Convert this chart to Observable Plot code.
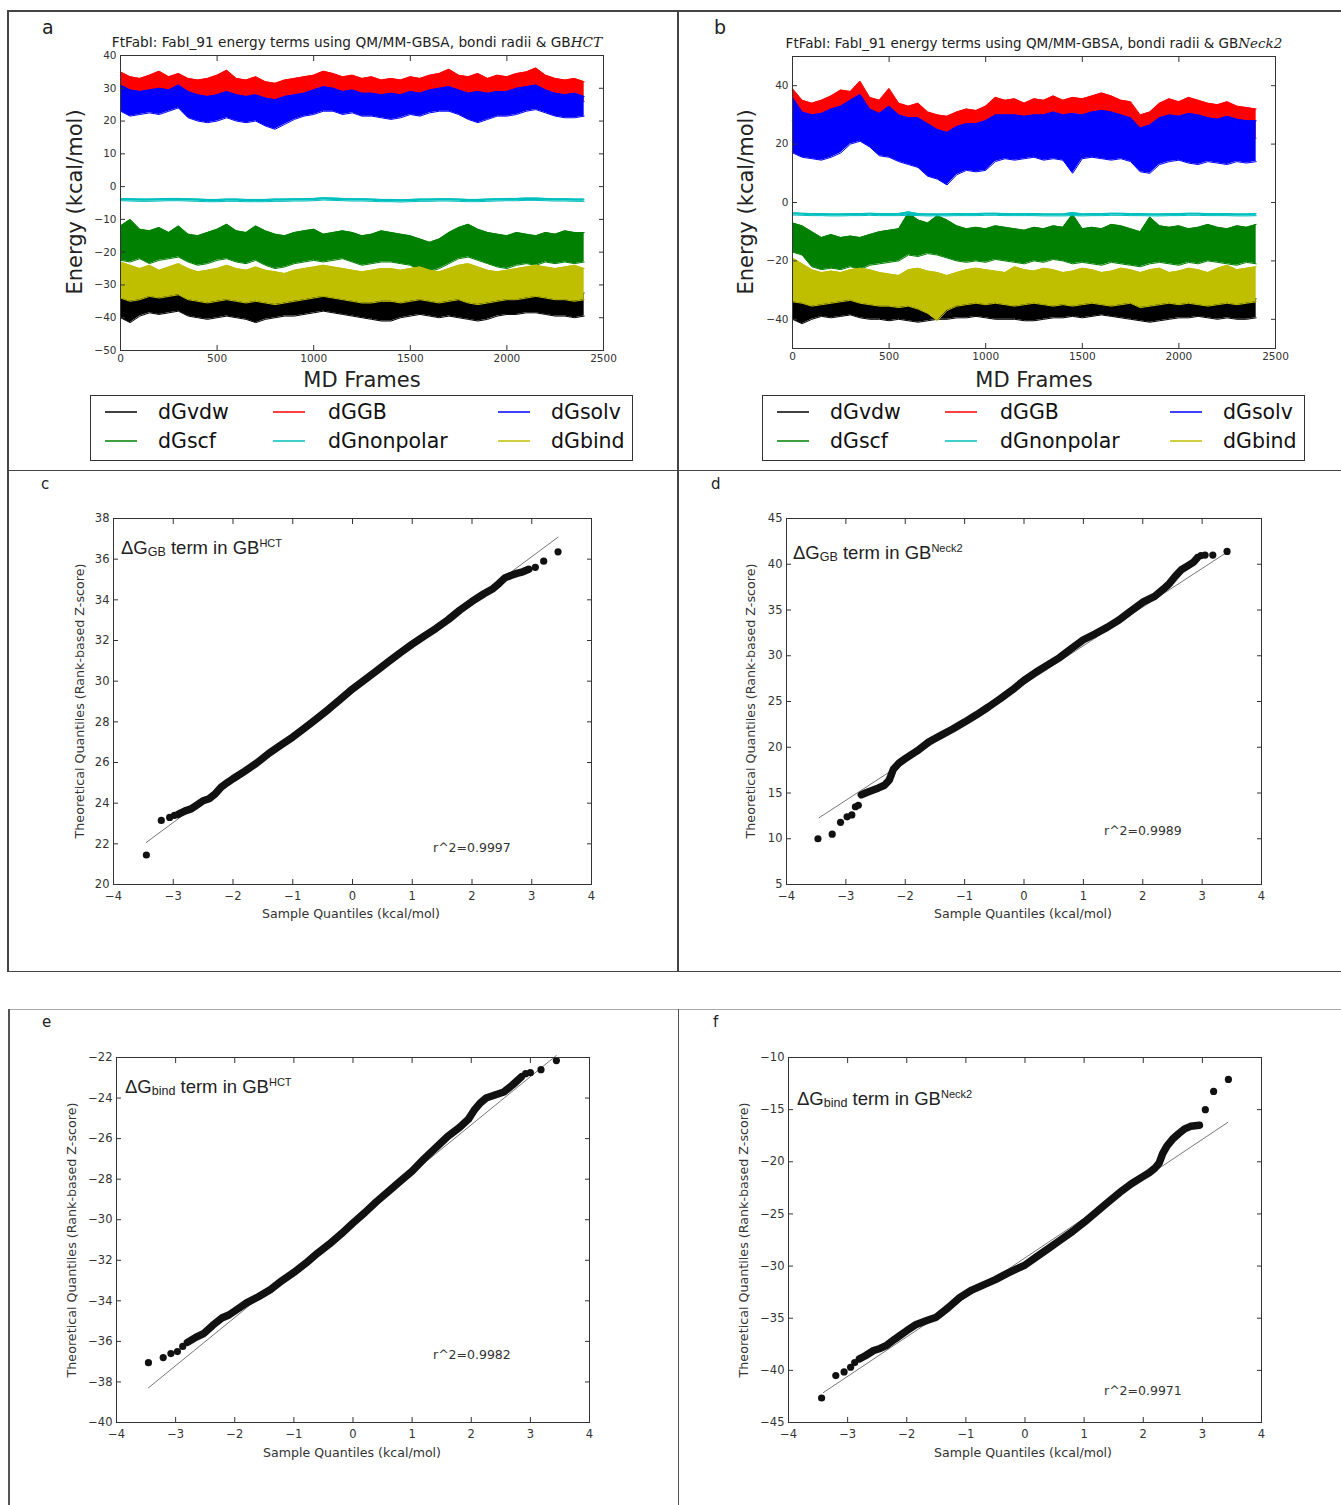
<!DOCTYPE html>
<html><head><meta charset="utf-8">
<script src="https://cdn.jsdelivr.net/npm/d3@7"></script>
<script src="https://cdn.jsdelivr.net/npm/@observablehq/plot@0.6"></script>
<style>
html,body{margin:0;padding:0;background:#fff;}
#fig{position:relative;width:1341px;height:1505px;overflow:hidden;font-family:"DejaVu Sans",sans-serif;color:#222;background:#fff;}
.abs{position:absolute;white-space:nowrap;line-height:1;}
.rule{position:absolute;}
.plot{position:absolute;}
sub,sup{line-height:0;}
</style></head><body><div id="fig"></div>
<script>
// ---------------- DATA ----------------
const frames = [0,50,100,150,200,250,300,350,400,450,500,550,600,650,700,750,800,850,900,950,1000,1050,1100,1150,1200,1250,1300,1350,1400,1450,1500,1550,1600,1650,1700,1750,1800,1850,1900,1950,2000,2050,2100,2150,2200,2250,2300,2350,2400];
const seriesKeys = ["vdw","scf","GB","nonpolar","solv","bind"];   // drawing order
const seriesNames = {vdw:"dGvdw", GB:"dGGB", solv:"dGsolv", scf:"dGscf", nonpolar:"dGnonpolar", bind:"dGbind"};
const seriesColors = {vdw:"#000000", scf:"#008000", GB:"#ff0000", nonpolar:"#00bfbf", solv:"#0000ff", bind:"#bfbf00"};
const legendOrder = [["vdw","GB","solv"],["scf","nonpolar","bind"]];

// Panel a (GB HCT): lower / upper envelope of each noisy trace, every 50 frames
const aGBHi = [35,33.5,33,34,35.2,33.5,34.5,33,32.5,33,34,35.5,33,32.5,33.5,32,31.5,32.5,33,33.5,34,35.2,34.5,33.5,34,33,33.5,32.5,33,32.5,33.5,33,34,34.5,35.8,34,33.5,34.5,33,34,33.5,34.5,35,36.2,34,33,32.5,33,32];
const aGBLo = [27,26.5,27,27.5,27,27.5,28,26.5,25.5,25,25.5,26,25.5,25,25.5,24.5,24.5,25,26,26.5,27,28,27.5,27,27,26.5,26.5,26,26,26.5,27,27,27.5,27.5,27.5,27,26.5,26,26.5,27,27,27.5,28,28.5,27.5,26.5,26,26.5,26];
const aSolvHi = [31,29.5,29,29.5,30,29.5,31,29,28,27.5,28,29,28,27.5,28,27,26.5,27.5,28,28.5,29.5,30.5,30,29,29.5,28.5,28.5,28,28.5,28,29,28.5,29.5,30,30.5,29.5,28.5,29,28.5,29,29,30,30.5,31,29.5,28.5,28,28.5,27.5];
const aSolvLo = [23,21.5,22,22.5,22,23,24,21,20,19.5,20,21,20,19.5,20,18.5,17.5,19,20.5,21.5,22,23,23,22,22.5,21.5,21.5,21,20.5,21,22,21.5,22.5,23,23,22,20.5,19.5,20.5,21.5,21.5,22,23,23.5,22.5,21.5,21,21,21.5];
const aNonpolarHi = [-3.6,-3.7,-3.8,-3.8,-3.7,-3.6,-3.6,-3.7,-3.8,-3.9,-3.9,-3.8,-3.8,-3.9,-3.9,-3.9,-3.8,-3.8,-3.7,-3.7,-3.6,-3.4,-3.5,-3.6,-3.7,-3.7,-3.8,-3.9,-3.9,-4.0,-3.9,-3.8,-3.8,-3.7,-3.7,-3.8,-3.9,-3.9,-3.8,-3.7,-3.6,-3.6,-3.5,-3.5,-3.6,-3.7,-3.7,-3.8,-3.8];
const aNonpolarLo = [-4.3,-4.4,-4.5,-4.5,-4.4,-4.3,-4.3,-4.4,-4.5,-4.6,-4.6,-4.5,-4.5,-4.6,-4.6,-4.6,-4.5,-4.5,-4.4,-4.4,-4.3,-4.1,-4.2,-4.3,-4.4,-4.4,-4.5,-4.6,-4.6,-4.7,-4.6,-4.5,-4.5,-4.4,-4.4,-4.5,-4.6,-4.6,-4.5,-4.4,-4.3,-4.3,-4.2,-4.2,-4.3,-4.4,-4.4,-4.5,-4.5];
const aScfHi = [-12,-10,-13,-13.5,-12.5,-14,-12,-14.5,-15,-14,-13,-11.5,-13.5,-14,-12,-13.5,-14.5,-15,-14,-13.5,-13,-14.5,-14,-13.5,-14,-15,-14.5,-13.5,-14,-14.5,-15,-16,-17,-16,-14,-12.5,-11.5,-13,-14,-14.5,-15,-14,-14.5,-15,-14,-14.5,-13.5,-14,-14];
const aScfLo = [-22.5,-23,-22,-23.5,-22.5,-22,-21.5,-23,-24,-23.5,-22.5,-22,-23,-23.5,-22.5,-24,-25,-24.5,-23.5,-23,-22.5,-23,-22.5,-22,-23,-24,-23.5,-23,-23,-23.5,-24,-25.5,-26,-25,-23.5,-22,-21.5,-22.5,-23.5,-24.5,-25,-24,-23.5,-24,-23,-23.5,-23,-23.5,-23];
const aBindHi = [-23,-24,-25,-24,-25.5,-24.5,-23.5,-25,-26,-25.5,-25,-24,-25,-25.5,-24.5,-25.5,-26,-26.5,-25.5,-25,-24.5,-24,-24.5,-25,-25.5,-26,-25.5,-25,-25,-25.5,-25,-24.5,-25.5,-26,-25,-24,-23.5,-24.5,-25.5,-26,-25.5,-25,-24.5,-24,-24.5,-25,-24.5,-24,-25];
const aBindLo = [-34,-35,-34.5,-33.5,-34,-33.5,-33,-34.5,-35,-35.5,-35,-34.5,-35,-35.5,-35,-35.5,-36,-35.5,-35,-34.5,-34,-33.5,-34,-34.5,-35,-35.5,-35.5,-35,-35,-35.5,-35,-34.5,-35,-35.5,-35,-34.5,-35.5,-36,-35.5,-35,-34.5,-34.5,-34,-33.5,-34,-34.5,-34.5,-35,-34.5];
const aVdwHi = [-32,-33,-32.5,-31.5,-32,-31.5,-31,-32.5,-33,-33.5,-33,-33,-33.5,-33.5,-33,-33.5,-34,-33.5,-33,-32.5,-32,-31.5,-32,-32.5,-33,-33.5,-33.5,-33,-33,-33.5,-33,-32.5,-33,-33.5,-33,-32.5,-33.5,-34,-33.5,-33,-32.5,-32.5,-32,-31.5,-32,-32.5,-32.5,-33,-32.5];
const aVdwLo = [-40,-41.5,-39.5,-38.5,-39,-38.5,-38,-39.5,-40,-40.5,-40,-39.5,-40,-40.5,-41.5,-40.5,-40,-39.5,-39.5,-39,-38.5,-38,-38.5,-39,-39.5,-40,-40.5,-41,-41,-40,-39.5,-39,-39.5,-40,-39.5,-40,-40.5,-41,-40.5,-39.5,-39,-39,-38.5,-38.5,-39,-39.5,-39.5,-40,-39.5];

// Panel b (GB Neck2)
const bGBHi = [39,35,34,35,36.5,38.5,38,41.5,36,35,39,34,33,34,31,30,29.5,31,32,31.5,33,36,35,35.5,34,35.5,35,36.5,35,36,35.5,36.5,37.5,36.5,35,34.5,30,31,34,35.5,34.5,36,35,34,33.5,34.5,33,32.5,32];
const bGBLo = [28,24,23,23,25,27,29,30,26,24,24,23,22,21,19,18,17,19,20,21,22,24,24,24,23,24,24,24,24,24,24,24,25,25,24,23,19,20,22,23,23,24,23,23,22,23,22,22,22];
const bSolvHi = [36,31,30,30.5,32,33,35,37,32,30.5,33,30,29,29,27,25,24,26,27,27,28,30,30,30,29.5,30,30,31,30,30.5,30,31,31.5,31,30,29,25.5,26.5,29,30,29.5,30.5,30,29,28.5,29.5,28.5,28,28];
const bSolvLo = [17,15.5,15,14.5,15.5,17,20,21,19,16,15.5,14,13,12,9,8,6,9.5,11,10.5,11,14,15,14.5,15,15.5,14.5,15,14.5,10,15,15.5,15,14.5,15,14,10.5,10,13,14,14.5,13.5,13,14,13.5,13,14,13.5,14];
const bNonpolarHi = [-3.5,-3.7,-3.8,-3.8,-3.9,-3.9,-3.8,-3.8,-3.7,-3.8,-3.8,-3.8,-3.2,-3.8,-3.9,-3.9,-3.9,-3.8,-3.8,-3.8,-3.7,-3.7,-3.8,-3.8,-3.8,-3.8,-3.9,-3.9,-3.9,-3.4,-3.9,-3.8,-3.8,-3.7,-3.7,-3.8,-3.8,-3.9,-3.9,-3.8,-3.8,-3.7,-3.7,-3.8,-3.8,-3.8,-3.9,-3.9,-3.8];
const bNonpolarLo = [-4.3,-4.4,-4.5,-4.5,-4.6,-4.6,-4.5,-4.5,-4.4,-4.5,-4.5,-4.5,-4.4,-4.5,-4.6,-4.6,-4.6,-4.5,-4.5,-4.5,-4.4,-4.4,-4.5,-4.5,-4.5,-4.5,-4.6,-4.6,-4.6,-4.5,-4.6,-4.5,-4.5,-4.4,-4.4,-4.5,-4.5,-4.6,-4.6,-4.5,-4.5,-4.4,-4.4,-4.5,-4.5,-4.5,-4.6,-4.6,-4.5];
const bScfHi = [-7,-8,-10,-12,-11,-12,-11.5,-12,-11,-10,-9.5,-9,-3.5,-6,-7,-4.5,-6,-8,-9,-8.5,-9,-8,-8.5,-9,-9.5,-8.5,-9,-8,-8.5,-4,-9,-8.5,-9,-7.5,-8,-9,-10,-5,-8,-8.5,-8,-9,-8.5,-7.5,-8.5,-9,-8,-8.5,-7.5];
const bScfLo = [-17,-18,-22,-23,-22.5,-23,-22,-23,-21.5,-21,-20.5,-20,-18,-18.5,-17.5,-18,-19,-20,-20.5,-20,-20.5,-19.5,-20,-20.5,-21,-20,-20.5,-19.5,-20,-21,-20.5,-21,-21.5,-20.5,-21,-21.5,-22,-21,-20.5,-21,-21.5,-20.5,-21,-20,-20.5,-21,-21.5,-20.5,-21];
const bBindHi = [-19,-21,-23,-24,-23.5,-24,-23,-22.5,-23,-24,-24.5,-25,-23,-22.5,-23.5,-24,-25,-24,-23,-22.5,-23,-23.5,-24,-22,-23,-23.5,-22.5,-23,-24,-23.5,-22.5,-23,-24,-23.5,-22.5,-23,-24,-23,-22.5,-24,-23.5,-22.5,-23,-24,-22.5,-21.5,-23,-22.5,-22];
const bBindLo = [-34,-34.5,-35.5,-35,-34.5,-34,-33.5,-34.5,-35,-35.5,-35.5,-36,-35.5,-36.5,-38,-40.5,-37,-35.5,-35,-34.5,-35,-34.5,-35,-35.5,-35,-34.5,-35,-35.5,-35,-35.5,-35,-34.5,-35,-35.5,-35,-34.5,-36,-35.5,-35,-34.5,-35,-34.5,-35,-35.5,-35,-34.5,-35,-34.5,-34];
const bVdwHi = [-32,-33.5,-34,-32.5,-33,-32,-31.5,-32.5,-33,-33.5,-34,-34,-33.5,-34,-34.5,-34.5,-34,-33,-32.5,-32,-32.5,-33,-33.5,-33,-33.5,-34,-34,-33.5,-33,-33.5,-33,-32.5,-32,-32.5,-33,-33.5,-34,-33.5,-33,-33,-33.5,-33,-32.5,-33,-33.5,-33,-33,-33.5,-33];
const bVdwLo = [-40,-41.5,-40,-39,-39.5,-39,-38.5,-39.5,-40,-40,-40.5,-40,-40.5,-41,-40.5,-40,-40,-39.5,-39.5,-39,-39.5,-40,-40,-40,-40.5,-40.5,-40,-39.5,-39.5,-39,-39.5,-39,-38.5,-39,-39.5,-40,-40.5,-41,-40.5,-40,-39.5,-39.5,-39,-39.5,-40,-39.5,-40,-40,-39.5];

// Time-series axes
const frameTicks = [0,500,1000,1500,2000,2500];
const aEnergyTicks = [-50,-40,-30,-20,-10,0,10,20,30,40];
const bEnergyTicks = [-40,-20,0,20,40];

// QQ plots: dense body (x = sample quantile, y = theoretical), isolated tail points, fit line ends
const qqTicksX = [-4,-3,-2,-1,0,1,2,3,4];
const cBody = [[-2.92,23.45],[-2.8,23.62],[-2.7,23.72],[-2.6,23.92],[-2.5,24.12],[-2.4,24.22],[-2.3,24.45],[-2.2,24.78],[-2.1,25.0],[-2.0,25.2],[-1.8,25.58],[-1.6,25.98],[-1.4,26.45],[-1.2,26.85],[-1.0,27.25],[-0.8,27.7],[-0.6,28.15],[-0.4,28.62],[-0.2,29.12],[0,29.62],[0.2,30.06],[0.4,30.5],[0.6,30.95],[0.8,31.4],[1.0,31.82],[1.2,32.22],[1.4,32.6],[1.6,33.02],[1.8,33.5],[2.0,33.92],[2.2,34.3],[2.35,34.55],[2.45,34.8],[2.55,35.08],[2.65,35.2],[2.75,35.3],[2.85,35.38],[2.95,35.5]];
const cTails = [[-3.45,21.45],[-3.2,23.15],[-3.06,23.3],[-2.98,23.4],[3.06,35.6],[3.2,35.9],[3.44,36.36]];
const cFit = [[-3.45,22.07],[3.44,37.08]];
const cTicksY = [20,22,24,26,28,30,32,34,36,38];

const dBody = [[-2.74,14.8],[-2.65,15.05],[-2.55,15.3],[-2.45,15.55],[-2.35,15.85],[-2.27,16.4],[-2.2,17.6],[-2.1,18.3],[-2.0,18.75],[-1.8,19.6],[-1.6,20.6],[-1.4,21.3],[-1.2,22.0],[-1.0,22.75],[-0.8,23.55],[-0.6,24.4],[-0.4,25.3],[-0.2,26.25],[0,27.3],[0.2,28.2],[0.4,29.0],[0.6,29.8],[0.8,30.8],[1.0,31.75],[1.2,32.4],[1.4,33.1],[1.6,33.9],[1.8,34.9],[2.0,35.85],[2.2,36.5],[2.35,37.3],[2.45,37.9],[2.55,38.7],[2.65,39.4],[2.75,39.8],[2.85,40.2],[2.92,40.7]];
const dTails = [[-3.47,10.0],[-3.23,10.5],[-3.09,11.8],[-2.98,12.4],[-2.9,12.6],[-2.84,13.5],[-2.79,13.65],[2.98,40.95],[3.05,41.0],[3.18,41.0],[3.42,41.4]];
const dFit = [[-3.45,12.3],[3.44,41.4]];
const dTicksY = [5,10,15,20,25,30,35,40,45];

const eBody = [[-2.8,-36.05],[-2.66,-35.8],[-2.52,-35.6],[-2.37,-35.2],[-2.22,-34.85],[-2.1,-34.7],[-2.0,-34.5],[-1.8,-34.1],[-1.6,-33.8],[-1.4,-33.45],[-1.2,-33.0],[-1.0,-32.6],[-0.8,-32.15],[-0.6,-31.65],[-0.4,-31.2],[-0.2,-30.7],[0,-30.16],[0.2,-29.65],[0.4,-29.1],[0.6,-28.6],[0.8,-28.1],[1.0,-27.6],[1.2,-27.0],[1.4,-26.45],[1.6,-25.9],[1.8,-25.45],[1.95,-25.05],[2.05,-24.6],[2.15,-24.25],[2.25,-24.0],[2.4,-23.85],[2.55,-23.7],[2.7,-23.35],[2.85,-22.95]];
const eTails = [[-3.46,-37.05],[-3.21,-36.8],[-3.08,-36.6],[-2.97,-36.5],[-2.88,-36.25],[2.92,-22.8],[3.0,-22.75],[3.18,-22.6],[3.44,-22.15]];
const eFit = [[-3.46,-38.29],[3.44,-21.9]];
const eTicksY = [-40,-38,-36,-34,-32,-30,-28,-26,-24,-22];

const fBody = [[-2.8,-38.9],[-2.7,-38.6],[-2.56,-38.1],[-2.45,-37.9],[-2.34,-37.6],[-2.2,-37.0],[-2.1,-36.6],[-2.0,-36.2],[-1.84,-35.6],[-1.65,-35.2],[-1.5,-34.9],[-1.3,-34.0],[-1.1,-33.0],[-0.9,-32.3],[-0.7,-31.8],[-0.5,-31.3],[-0.3,-30.7],[-0.15,-30.3],[0,-29.9],[0.2,-29.1],[0.4,-28.3],[0.6,-27.5],[0.8,-26.7],[1.0,-25.8],[1.2,-24.85],[1.4,-23.9],[1.6,-22.95],[1.8,-22.1],[2.0,-21.4],[2.1,-21.05],[2.2,-20.6],[2.27,-20.1],[2.33,-19.2],[2.4,-18.5],[2.5,-17.8],[2.6,-17.3],[2.7,-16.85],[2.8,-16.6],[2.95,-16.5]];
const fTails = [[-3.44,-42.65],[-3.2,-40.5],[-3.06,-40.15],[-2.95,-39.7],[-2.88,-39.25],[3.05,-15.0],[3.19,-13.25],[3.44,-12.1]];
const fFit = [[-3.41,-42.13],[3.43,-16.22]];
const fTicksY = [-45,-40,-35,-30,-25,-20,-15,-10];

// ---------------- HELPERS ----------------
const fig = document.getElementById("fig");
const minus = d => (d < 0 ? "\u2212" + Math.abs(d) : String(d));

function rule(left, top, w, h, color) {
  const d = document.createElement("div");
  d.className = "rule";
  Object.assign(d.style, {left: left + "px", top: top + "px", width: w + "px", height: h + "px", background: color});
  fig.appendChild(d);
}
function label(html, x, y, {size = 12, anchor = "middle", family = "DejaVu Sans", rotate = 0, color = "#222", style = ""} = {}) {
  const d = document.createElement("div");
  d.className = "abs";
  d.innerHTML = html;
  d.style.cssText += `left:${x}px;top:${y}px;font-size:${size}px;font-family:${family};color:${color};${style}`;
  const tx = anchor === "middle" ? "-50%" : anchor === "end" ? "-100%" : "0";
  d.style.transform = `translate(${tx},-50%)` + (rotate ? ` rotate(${rotate}deg)` : "");
  fig.appendChild(d);
  return d;
}
function mount(svg, left, top) {
  const w = document.createElement("div");
  w.className = "plot";
  w.style.left = left + "px";
  w.style.top = top + "px";
  w.appendChild(svg);
  fig.appendChild(w);
}
function axes(xTicks, yTicks, size, xFmt, yFmt, xPad = 9) {
  const common = {tickSize: -5, label: null, stroke: "#333", fill: "#333", fontSize: size};
  return [
    Plot.axisX(xTicks, {anchor: "bottom", ...common, tickPadding: xPad, tickFormat: xFmt}),
    Plot.axisX(xTicks, {anchor: "top", ...common, tickPadding: 9, tickFormat: () => ""}),
    Plot.axisY(yTicks, {anchor: "left", ...common, tickPadding: 9, tickFormat: yFmt}),
    Plot.axisY(yTicks, {anchor: "right", ...common, tickPadding: 9, tickFormat: () => ""})
  ];
}
const plotStyle = {fontFamily: "DejaVu Sans", fontSize: "11px", color: "#333", background: "transparent", overflow: "visible"};

function timePlot(series, yDomain, yTicks, geo) {
  const marks = [];
  for (const key of seriesKeys) {
    const [lo, hi] = series[key];
    const rows = frames.map((f, i) => ({f, lo: lo[i], hi: hi[i]}));
    const c = seriesColors[key];
    marks.push(Plot.areaY(rows, {x: "f", y1: "lo", y2: "hi", fill: c}));
    marks.push(Plot.lineY(rows, {x: "f", y: "hi", stroke: c, strokeWidth: 1}));
    marks.push(Plot.lineY(rows, {x: "f", y: "lo", stroke: c, strokeWidth: 1}));
  }
  marks.push(Plot.frame({stroke: "#333", strokeWidth: 1}));
  marks.push(...axes(frameTicks, yTicks, 10.5, d => String(d), minus));
  return Plot.plot({
    width: geo.w, height: geo.h,
    marginLeft: geo.ml, marginTop: geo.mt, marginRight: geo.mr, marginBottom: geo.mb,
    x: {domain: [0, 2500]}, y: {domain: yDomain},
    style: plotStyle, marks
  });
}
function qqPlot(body, tails, fit, yDomain, yTicks, geo) {
  const toObj = p => ({x: p[0], y: p[1]});
  return Plot.plot({
    width: geo.w, height: geo.h,
    marginLeft: geo.ml, marginTop: geo.mt, marginRight: geo.mr, marginBottom: geo.mb,
    x: {domain: [-4, 4]}, y: {domain: yDomain},
    style: plotStyle,
    marks: [
      Plot.line(fit.map(toObj), {x: "x", y: "y", stroke: "#777", strokeWidth: 1}),
      Plot.line(body.map(toObj), {x: "x", y: "y", stroke: "#111", strokeWidth: 7.5, strokeLinecap: "round", strokeLinejoin: "round"}),
      Plot.dot(tails.map(toObj), {x: "x", y: "y", r: 3.6, fill: "#111"}),
      Plot.frame({stroke: "#333", strokeWidth: 1}),
      ...axes(qqTicksX, yTicks, 11.5, minus, minus, 12)
    ]
  });
}
function legend(left, top) {
  const box = document.createElement("div");
  box.style.cssText = `position:absolute;left:${left}px;top:${top}px;width:541px;height:64px;border:1px solid #333;background:#fff;`;
  fig.appendChild(box);
  const colX = [[15, 68], [183, 238], [408, 461]];
  const rowY = [16, 45];
  legendOrder.forEach((row, r) => row.forEach((key, c) => {
    const ln = document.createElement("div");
    ln.style.cssText = `position:absolute;left:${left + colX[c][0]}px;top:${top + rowY[r]}px;width:32px;height:1.5px;background:${seriesColors[key]};opacity:0.75;`;
    fig.appendChild(ln);
    label(seriesNames[key], left + colX[c][1], top + rowY[r] + 1, {size: 20.5, anchor: "start", color: "#111"});
  }));
}

// ---------------- BORDERS ----------------
rule(7, 10, 1334, 1.5, "#444");
rule(7, 10, 1.5, 962, "#444");
rule(7, 970.5, 1334, 1.5, "#444");
rule(7, 469.5, 1334, 1.5, "#444");
rule(677, 10, 1.5, 962, "#444");
rule(8, 1009, 1333, 1.2, "#aaa");
rule(8, 1009, 1.5, 496, "#555");
rule(677.5, 1009, 1.5, 496, "#555");

// ---------------- PANEL A / B ----------------
const seriesA = {vdw: [aVdwLo, aVdwHi], scf: [aScfLo, aScfHi], GB: [aGBLo, aGBHi], nonpolar: [aNonpolarLo, aNonpolarHi], solv: [aSolvLo, aSolvHi], bind: [aBindLo, aBindHi]};
const seriesB = {vdw: [bVdwLo, bVdwHi], scf: [bScfLo, bScfHi], GB: [bGBLo, bGBHi], nonpolar: [bNonpolarLo, bNonpolarHi], solv: [bSolvLo, bSolvHi], bind: [bBindLo, bBindHi]};

mount(timePlot(seriesA, [-50, 40], aEnergyTicks, {w: 553, h: 335, ml: 50, mt: 15, mr: 20, mb: 25}), 70, 40);
mount(timePlot(seriesB, [-50, 50], bEnergyTicks, {w: 553, h: 332, ml: 50, mt: 15, mr: 20, mb: 25}), 742, 41);

const serif = "font-family:'DejaVu Serif',serif;font-style:italic;";
label(`FtFabI: FabI_91 energy terms using QM/MM-GBSA, bondi radii &amp; GB<span style="${serif}">HCT</span>`, 357, 43, {size: 13.7});
label(`FtFabI: FabI_91 energy terms using QM/MM-GBSA, bondi radii &amp; GB<span style="${serif}">Neck2</span>`, 1034, 44, {size: 13.5});
label("Energy (kcal/mol)", 75, 202, {size: 21, rotate: -90});
label("Energy (kcal/mol)", 746, 202, {size: 21, rotate: -90});
label("MD Frames", 362, 380, {size: 21});
label("MD Frames", 1034, 380, {size: 21});
legend(90, 395);
legend(762, 395);

// ---------------- PANELS C-F ----------------
mount(qqPlot(cBody, cTails, cFit, [20, 38], cTicksY, {w: 551, h: 414, ml: 53, mt: 18, mr: 20, mb: 30}), 60, 500);
mount(qqPlot(dBody, dTails, dFit, [5, 45], dTicksY, {w: 548, h: 414, ml: 53, mt: 18, mr: 20, mb: 30}), 733, 500);
mount(qqPlot(eBody, eTails, eFit, [-40, -22], eTicksY, {w: 546, h: 413, ml: 53, mt: 18, mr: 20, mb: 30}), 63, 1039);
mount(qqPlot(fBody, fTails, fFit, [-45, -10], fTicksY, {w: 546, h: 413, ml: 53, mt: 18, mr: 20, mb: 30}), 735, 1039);

const yq = "Theoretical Quantiles (Rank-based Z-score)";
const xq = "Sample Quantiles (kcal/mol)";
label(yq, 80, 701, {size: 12.7, rotate: -90, color: "#333"});
label(yq, 751, 701, {size: 12.7, rotate: -90, color: "#333"});
label(yq, 72, 1240, {size: 12.7, rotate: -90, color: "#333"});
label(yq, 744, 1240, {size: 12.7, rotate: -90, color: "#333"});
label(xq, 351, 914, {size: 12.6, color: "#333"});
label(xq, 1023, 914, {size: 12.6, color: "#333"});
label(xq, 352, 1453, {size: 12.6, color: "#333"});
label(xq, 1023, 1453, {size: 12.6, color: "#333"});

const ann = "Liberation Sans, Arial, sans-serif";
const sub = t => `<span style="font-size:12.5px;vertical-align:-2px">${t}</span>`;
const sup = t => `<span style="font-size:11px;vertical-align:7px">${t}</span>`;
label(`ΔG${sub("GB")} term in GB${sup("HCT")}`, 121, 548, {size: 18.5, anchor: "start", family: ann});
label(`ΔG${sub("GB")} term in GB${sup("Neck2")}`, 793, 553, {size: 18.5, anchor: "start", family: ann});
label(`ΔG${sub("bind")} term in GB${sup("HCT")}`, 125, 1087, {size: 18.5, anchor: "start", family: ann});
label(`ΔG${sub("bind")} term in GB${sup("Neck2")}`, 797, 1099, {size: 18.5, anchor: "start", family: ann});

label("r^2=0.9997", 433, 848, {size: 12.5, anchor: "start", color: "#333"});
label("r^2=0.9989", 1104, 831, {size: 12.5, anchor: "start", color: "#333"});
label("r^2=0.9982", 433, 1355, {size: 12.5, anchor: "start", color: "#333"});
label("r^2=0.9971", 1104, 1391, {size: 12.5, anchor: "start", color: "#333"});

// panel letters
label("a", 42, 27, {size: 19, anchor: "start"});
label("b", 714, 27, {size: 19, anchor: "start"});
label("c", 41, 484, {size: 15, anchor: "start"});
label("d", 711, 484, {size: 15, anchor: "start"});
label("e", 42, 1022, {size: 15, anchor: "start"});
label("f", 713, 1022, {size: 15, anchor: "start"});
</script></body></html>
